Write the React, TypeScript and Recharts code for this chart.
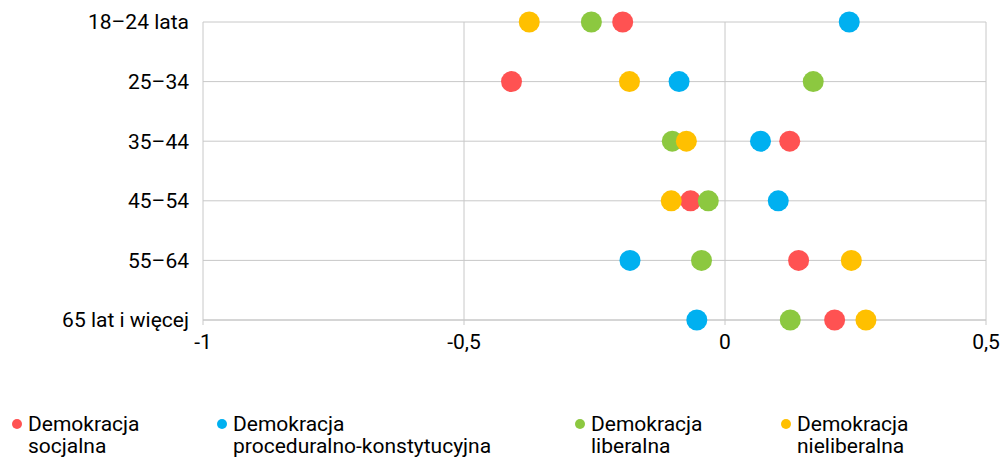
import React from 'react';
import { ScatterChart, Scatter, XAxis, YAxis, CartesianGrid } from 'recharts';

// Age groups, top to bottom
const ageGroups = ['18–24 lata', '25–34', '35–44', '45–54', '55–64', '65 lat i więcej'];

const xTicks = [-1, -0.5, 0, 0.5];

// Values per age group, same order as ageGroups
const socjalna = [-0.196, -0.409, 0.124, -0.066, 0.141, 0.21];
const proceduralna = [0.238, -0.088, 0.068, 0.102, -0.182, -0.054];
const liberalna = [-0.256, 0.169, -0.101, -0.032, -0.045, 0.125];
const nieliberalna = [-0.375, -0.183, -0.074, -0.103, 0.242, 0.27];

const series = [
  { key: 'socjalna', name: 'Demokracja socjalna', values: socjalna, color: '#FF5252' },
  { key: 'proc', name: 'Demokracja proceduralno-konstytucyjna', values: proceduralna, color: '#00B0F0' },
  { key: 'lib', name: 'Demokracja liberalna', values: liberalna, color: '#8CC840' },
  { key: 'nielib', name: 'Demokracja nieliberalna', values: nieliberalna, color: '#FFC000' },
];

const toPoints = (values: number[]) => values.map((v, i) => ({ x: v, y: i }));

const FONT = 'Roboto, "Noto Sans", sans-serif';

const legendLeft = [12, 217, 575, 781];

const Dot = (color: string) => (props: any) =>
  <circle cx={props.cx} cy={props.cy} r={10.5} fill={color} />;

export default function App() {
  return (
    <div style={{ position: 'absolute', left: 0, top: 0, width: 1002, height: 457, background: '#fff', fontFamily: FONT }}>
      <ScatterChart width={1002} height={400} margin={{ top: 22, right: 16, bottom: 50, left: 0 }}>
        <CartesianGrid stroke="#c8c8c8" strokeWidth={1} />
        <XAxis
          type="number"
          dataKey="x"
          domain={[-1, 0.5]}
          ticks={xTicks}
          tickFormatter={(v: number) => String(v).replace('.', ',')}
          tick={{ fontSize: 21, fill: '#000', fontFamily: FONT }}
          tickSize={5}
          tickMargin={9}
          height={30}
          axisLine={{ stroke: '#c8c8c8' }}
          tickLine={{ stroke: '#c8c8c8' }}
        />
        <YAxis
          type="number"
          dataKey="y"
          domain={[0, 5]}
          reversed
          ticks={[0, 1, 2, 3, 4, 5]}
          tickFormatter={(v: number) => ageGroups[v]}
          tick={{ fontSize: 21, fill: '#000', fontFamily: FONT }}
          width={203}
          tickMargin={8}
          axisLine={false}
          tickLine={false}
        />
        {series.map(s => (
          <Scatter
            key={s.key}
            name={s.name}
            data={toPoints(s.values)}
            fill={s.color}
            shape={Dot(s.color)}
            isAnimationActive={false}
          />
        ))}
      </ScatterChart>
      {series.map((s, i) => {
        const [first, ...rest] = s.name.split(' ');
        return (
          <div
            key={s.key}
            style={{ position: 'absolute', left: legendLeft[i], top: 413, fontSize: 21, lineHeight: '22px', color: '#000', display: 'flex' }}
          >
            <span style={{ width: 10, height: 10, borderRadius: 5, background: s.color, marginTop: 6, marginRight: 6, flexShrink: 0 }} />
            <span>
              <div>{first}</div>
              <div>{rest.join(' ')}</div>
            </span>
          </div>
        );
      })}
    </div>
  );
}
